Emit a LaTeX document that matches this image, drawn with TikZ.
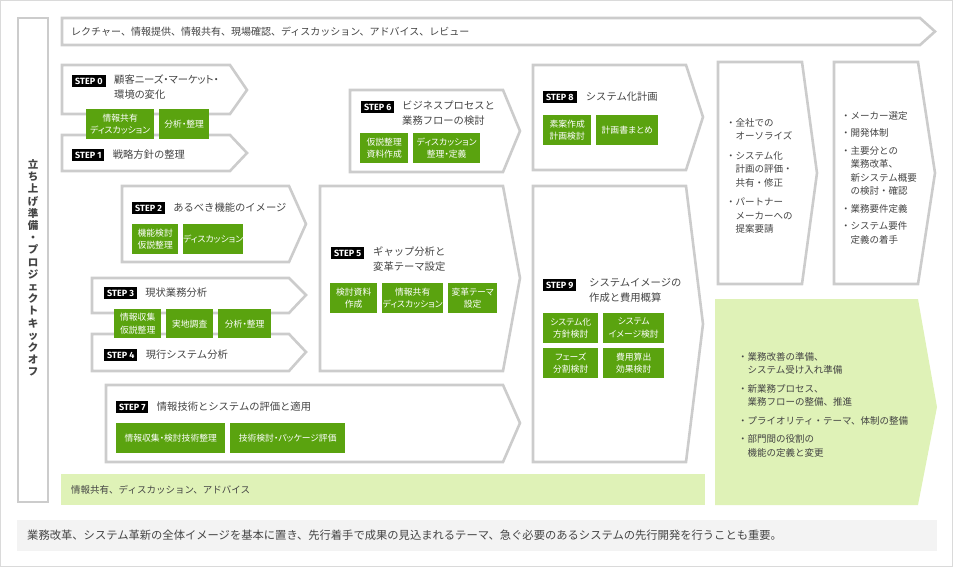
\documentclass[tikz,border=0pt]{standalone}
\usepackage{fontspec}
\setmainfont{Noto Sans CJK JP}
\newfontfamily\propfont{Noto Sans CJK JP}[RawFeature=+palt]
\newfontfamily\badgefont{Fira Sans}
\usepackage{tikz}
\usetikzlibrary{positioning}
\definecolor{edge}{HTML}{CCCCCC}
\definecolor{frameline}{HTML}{DADADA}
\definecolor{leaf}{HTML}{5AA30F}
\definecolor{soft}{HTML}{DFF2B7}
\definecolor{notefill}{HTML}{F3F3F3}
\definecolor{ink}{HTML}{444444}
\tikzset{
  phase/.style={draw=edge, line width=2.6pt, fill=white},
  badge/.style={fill=black, text=white, font=\badgefont\bfseries\fontsize{9}{9}\selectfont, inner xsep=3pt, inner ysep=0pt, minimum height=12pt, anchor=west},
  title/.style={anchor=west, text=ink, align=left, inner sep=0pt, font=\fontsize{10.3}{15}\selectfont},
  task/.style={fill=leaf, text=white, align=center, anchor=north west, inner sep=0pt, minimum height=30pt, font=\propfont\fontsize{8.8}{12.5}\selectfont},
  memo/.style={anchor=north west, text=ink, align=left, inner sep=0pt, font=\fontsize{9.5}{13.5}\selectfont},
  band/.style={anchor=west, text=ink, inner sep=0pt, font=\fontsize{10}{12}\selectfont},
}
% pentagon: left, top, right, bottom, tip x, tip y
\newcommand{\phasebox}[6]{\draw[phase] (#1,#2) -- (#3,#2) -- (#5,#6) -- (#3,#4) -- (#1,#4) -- cycle;}

\begin{document}
\begin{tikzpicture}[x=1pt, y=-1pt]
  \useasboundingbox (0,0) rectangle (953,567);
  \draw[frameline, line width=1pt] (0.5,0.5) rectangle (952.5,566.5);

  % outline shapes
  \phasebox{62}{18}{920}{45}{935}{31.5}
  \draw[phase] (18,18) rectangle (48,502);
  \phasebox{62}{65}{230}{114}{247}{90}
  \phasebox{62}{135}{230}{171}{247}{153}
  \phasebox{122}{186}{289}{262}{306}{224}
  \phasebox{92}{278}{289}{313}{306}{295}
  \phasebox{92}{334}{289}{371}{306}{352}
  \phasebox{106}{385}{503}{462}{520}{423}
  \phasebox{350}{90}{503}{172}{520}{131}
  \phasebox{320}{186}{503}{371}{520}{278}
  \phasebox{533}{65}{686}{170}{703}{117}
  \phasebox{533}{186}{686}{462}{703}{324}
  \phasebox{718}{62}{802}{284}{817}{173}
  \phasebox{834}{62}{918}{284}{935}{173}
  \fill[soft] (61,474) rectangle (705,505);
  \fill[soft] (715,299) -- (918,299) -- (937,407) -- (918,505) -- (715,505) -- cycle;
  \fill[notefill] (17,520) rectangle (937,551);

  % bands
  \node[band] (lecture) at (71,31.5) {レクチャー、情報提供、情報共有、現場確認、ディスカッション、アドバイス、レビュー};
  \node[text=ink, align=center, inner sep=0pt, font=\bfseries\fontsize{10.5}{12.2}\selectfont] (kickoff) at (33,268)
    {立\\ち\\上\\げ\\準\\備\\・\\プ\\ロ\\ジ\\ェ\\ク\\ト\\キ\\ッ\\ク\\オ\\フ};
  \node[band, font=\fontsize{9.5}{12}\selectfont] (share) at (71,490) {情報共有、ディスカッション、アドバイス};
  \node[band, font=\fontsize{11.3}{12}\selectfont] (note) at (27,535.5) {業務改革、システム革新の全体イメージを基本に置き、先行着手で成果の見込まれるテーマ、急ぐ必要のあるシステムの先行開発を行うことも重要。};

  % step 0 / 1
  \node[badge] (s0badge) at (72,81) {STEP 0};
  \node[title, font=\propfont\fontsize{10.3}{15}\selectfont] (s0title) at (114,87.5) {顧客ニーズ・マーケット・\\環境の変化};
  \node[badge] (s1badge) at (72,155) {STEP 1};
  \node[title, right=8pt of s1badge] (s1title) {戦略方針の整理};
  \node[task, minimum width=68pt] (s0a) at (86,109) {情報共有\\ディスカッション};
  \node[task, minimum width=50pt] (s0b) at (159,109) {分析・整理};

  % step 2
  \node[badge] (s2badge) at (132,208) {STEP 2};
  \node[title, right=8pt of s2badge] (s2title) {あるべき機能のイメージ};
  \node[task, minimum width=46pt] (s2a) at (132,224) {機能検討\\仮説整理};
  \node[task, minimum width=56pt] (s2b) at (183,224) {ディスカッション};

  % step 3 / 4
  \node[badge] (s3badge) at (104,293) {STEP 3};
  \node[title, right=8pt of s3badge] (s3title) {現状業務分析};
  \node[badge] (s4badge) at (104,355) {STEP 4};
  \node[title, right=8pt of s4badge] (s4title) {現行システム分析};
  \node[task, minimum width=47pt, minimum height=29pt] (s3a) at (114,309) {情報収集\\仮説整理};
  \node[task, minimum width=47pt, minimum height=29pt] (s3b) at (166,309) {実地調査};
  \node[task, minimum width=53pt, minimum height=29pt] (s3c) at (218,309) {分析・整理};

  % step 7
  \node[badge] (s7badge) at (116,407) {STEP 7};
  \node[title, right=8pt of s7badge] (s7title) {情報技術とシステムの評価と適用};
  \node[task, minimum width=109pt] (s7a) at (116,423) {情報収集・検討技術整理};
  \node[task, minimum width=115pt] (s7b) at (230,423) {技術検討・パッケージ評価};

  % step 6
  \node[badge] (s6badge) at (361,107) {STEP 6};
  \node[title] (s6title) at (402,113) {ビジネスプロセスと\\業務フローの検討};
  \node[task, minimum width=48pt] (s6a) at (360,133) {仮説整理\\資料作成};
  \node[task, minimum width=67pt] (s6b) at (413,133) {ディスカッション\\整理・定義};

  % step 5
  \node[badge] (s5badge) at (331,253) {STEP 5};
  \node[title] (s5title) at (373,259) {ギャップ分析と\\変革テーマ設定};
  \node[task, minimum width=47pt] (s5a) at (330,283) {検討資料\\作成};
  \node[task, minimum width=61pt] (s5b) at (382,283) {情報共有\\ディスカッション};
  \node[task, minimum width=49pt] (s5c) at (448,283) {変革テーマ\\設定};

  % step 8
  \node[badge] (s8badge) at (543,97) {STEP 8};
  \node[title, right=9pt of s8badge] (s8title) {システム化計画};
  \node[task, minimum width=48pt] (s8a) at (543,115) {素案作成\\計画検討};
  \node[task, minimum width=62pt] (s8b) at (596,115) {計画書まとめ};

  % step 9
  \node[badge] (s9badge) at (543,285) {STEP 9};
  \node[title] (s9title) at (589,290.5) {システムイメージの\\作成と費用概算};
  \node[task, minimum width=55pt] (s9a) at (543,313) {システム化\\方針検討};
  \node[task, minimum width=61pt] (s9b) at (603,313) {システム\\イメージ検討};
  \node[task, minimum width=55pt] (s9c) at (543,348) {フェーズ\\分割検討};
  \node[task, minimum width=61pt] (s9d) at (603,348) {費用算出\\効果検討};

  % right columns
  \node[memo] (approve) at (726,118)
    {・全社での\\\hphantom{・}オーソライズ\\[6pt]・システム化\\\hphantom{・}計画の評価・\\\hphantom{・}共有・修正\\[6pt]・パートナー\\\hphantom{・}メーカーへの\\\hphantom{・}提案要請};
  \node[memo] (vendor) at (841,111)
    {・メーカー選定\\[4pt]・開発体制\\[4pt]・主要分との\\\hphantom{・}業務改革、\\\hphantom{・}新システム概要\\\hphantom{・}の検討・確認\\[4pt]・業務要件定義\\[4pt]・システム要件\\\hphantom{・}定義の着手};
  \node[memo] (prepare) at (738,352)
    {・業務改善の準備、\\\hphantom{・}システム受け入れ準備\\[5pt]・新業務プロセス、\\\hphantom{・}業務フローの整備、推進\\[5pt]・プライオリティ・テーマ、体制の整備\\[5pt]・部門間の役割の\\\hphantom{・}機能の定義と変更};
\end{tikzpicture}
\end{document}
